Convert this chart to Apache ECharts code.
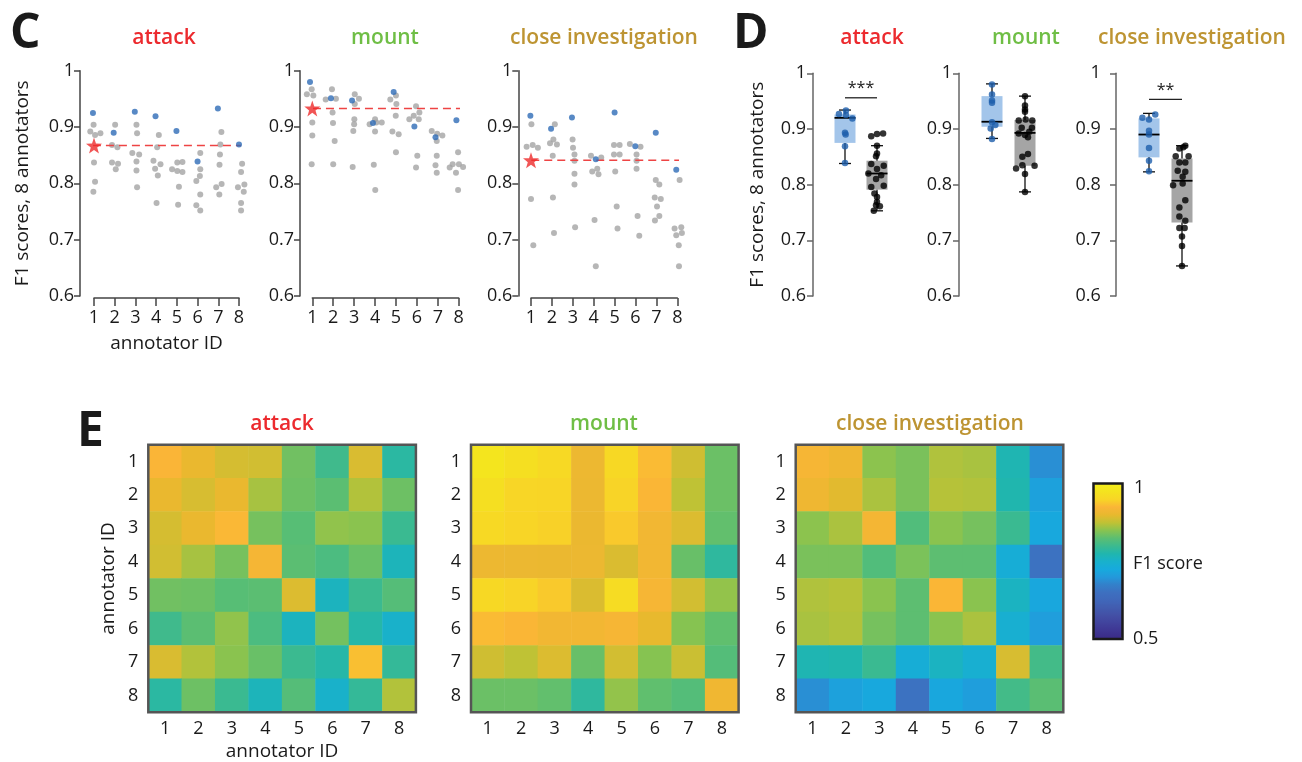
<!DOCTYPE html>
<html><head><meta charset="utf-8">
<script src="https://cdn.jsdelivr.net/npm/echarts@6/dist/echarts.min.js"></script>
<style>html,body{margin:0;padding:0;background:#fff}#c{width:1302px;height:762px}</style>
</head><body><div id="c"></div>
<script>
// ---------------- DATA ----------------
const ids = ['1','2','3','4','5','6','7','8'];
const behaviors = ['attack', 'mount', 'close investigation'];
const behaviorColors = ['#ec2a2e', '#6fbe45', '#bd9432'];

// Panel C: [annotator position (with jitter), F1]
const attackVsOthers = [
 [0.82,0.892],[0.98,0.904],[1.05,0.886],[1.31,0.889],[1.0,0.837],[1.05,0.803],[0.97,0.785],
 [2.02,0.904],[1.87,0.868],[2.13,0.864],[1.87,0.837],[2.16,0.835],[2.05,0.825],
 [3.05,0.904],[3.08,0.889],[2.85,0.854],[3.18,0.851],[3.05,0.839],[3.05,0.823],[3.08,0.793],
 [4.13,0.886],[4.05,0.864],[3.87,0.840],[3.95,0.826],[4.21,0.834],[4.08,0.814],[4.02,0.765],
 [4.77,0.825],[5.02,0.837],[5.02,0.822],[5.27,0.838],[5.27,0.820],[5.1,0.794],[5.06,0.762],
 [6.13,0.854],[6.13,0.825],[6.11,0.813],[5.94,0.804],[6.13,0.780],[5.94,0.761],[6.13,0.752],
 [7.15,0.891],[7.1,0.869],[7.08,0.851],[7.06,0.833],[7.16,0.799],[6.9,0.793],[7.05,0.780],
 [8.15,0.835],[8.1,0.820],[8.26,0.798],[7.95,0.793],[8.23,0.785],[8.1,0.765],[8.1,0.752]];
const attackVsConsensus = [[0.95,0.925],[1.95,0.890],[2.97,0.927],[3.97,0.919],[4.98,0.893],[6.0,0.839],[6.98,0.933],[8.0,0.869]];

const mountVsOthers = [
 [0.74,0.958],[0.97,0.967],[1.05,0.956],[1.0,0.908],[1.0,0.885],[0.97,0.834],
 [1.64,0.949],[1.94,0.967],[2.13,0.950],[1.97,0.926],[1.99,0.907],[2.07,0.875],[2.0,0.834],
 [3.03,0.958],[3.03,0.941],[3.23,0.950],[3.01,0.914],[3.0,0.905],[2.96,0.893],[2.93,0.829],
 [3.74,0.905],[4.0,0.914],[4.06,0.908],[4.32,0.908],[4.0,0.892],[3.94,0.833],[4.01,0.788],
 [4.73,0.949],[5.0,0.956],[5.02,0.941],[4.99,0.920],[4.83,0.892],[5.13,0.887],[5.0,0.855],
 [5.96,0.937],[5.85,0.920],[6.12,0.926],[5.64,0.914],[6.09,0.914],[6.02,0.849],[5.96,0.828],
 [6.71,0.893],[6.97,0.888],[7.22,0.885],[6.95,0.875],[6.95,0.849],[6.89,0.832],[6.95,0.819],
 [7.97,0.855],[7.57,0.828],[7.71,0.834],[8.01,0.834],[8.21,0.829],[7.87,0.819],[7.97,0.788]];
const mountVsConsensus = [[0.89,0.980],[1.89,0.951],[2.9,0.947],[3.9,0.907],[4.89,0.962],[5.88,0.901],[6.89,0.882],[7.89,0.912]];

const closeInvVsOthers = [
 [0.79,0.865],[1.02,0.905],[1.08,0.868],[1.33,0.863],[1.0,0.772],[1.11,0.690],
 [2.14,0.905],[2.07,0.878],[1.91,0.871],[2.24,0.869],[2.04,0.849],[2.05,0.775],[2.1,0.712],
 [2.99,0.878],[3.01,0.863],[3.08,0.851],[3.08,0.840],[3.08,0.817],[3.08,0.798],[3.11,0.722],
 [3.87,0.849],[4.36,0.846],[3.93,0.821],[4.17,0.826],[4.23,0.816],[4.04,0.735],[4.1,0.653],
 [4.97,0.868],[5.24,0.868],[4.97,0.851],[5.24,0.851],[5.03,0.821],[5.1,0.759],[5.14,0.720],
 [5.73,0.870],[6.24,0.865],[6.05,0.851],[6.05,0.840],[6.05,0.826],[6.1,0.742],[6.18,0.707],
 [6.97,0.806],[7.14,0.798],[6.92,0.775],[7.21,0.772],[7.03,0.759],[7.14,0.742],[6.93,0.734],
 [8.11,0.806],[7.87,0.720],[8.19,0.722],[7.95,0.708],[8.22,0.712],[8.07,0.690],[8.08,0.653]];
const closeInvVsConsensus = [[0.97,0.920],[1.96,0.897],[2.96,0.917],[4.1,0.843],[5.0,0.926],[5.99,0.866],[6.97,0.890],[7.95,0.824]];

const meanF1 = [0.867, 0.933, 0.841];

// Panel D: box stats [min, q1, median, q3, max] for [vs consensus, vs others]
const attackBoxes = [[0.838,0.875,0.920,0.926,0.934],[0.753,0.791,0.820,0.843,0.870]];
const mountBoxes = [[0.883,0.904,0.913,0.959,0.981],[0.787,0.834,0.893,0.916,0.959]];
const closeInvBoxes = [[0.823,0.849,0.890,0.919,0.928],[0.654,0.732,0.807,0.847,0.870]];
// Panel D points: [jitter, F1]
const attackExpertPts = [[0.03,0.933],[-0.19,0.927],[0.03,0.925],[0.23,0.919],[0,0.893],[0.02,0.890],[0,0.869],[0,0.839]];
const attackPairPts = [[-0.18,0.887],[0,0.891],[0.19,0.892],[0,0.870],[0,0.856],[-0.03,0.851],[-0.18,0.837],[0.21,0.834],[0,0.828],[-0.27,0.820],[0.13,0.817],[-0.03,0.810],[-0.18,0.796],[0.21,0.798],[-0.08,0.784],[0,0.778],[0,0.769],[-0.03,0.763],[0.09,0.761],[-0.1,0.753]];
const mountExpertPts = [[0,0.980],[0,0.962],[0,0.951],[0,0.947],[0,0.912],[0.1,0.907],[-0.04,0.901],[0,0.882]];
const mountPairPts = [[0,0.959],[0,0.942],[0,0.935],[0,0.931],[-0.19,0.915],[0.02,0.917],[0.22,0.915],[-0.1,0.902],[0.21,0.902],[0.13,0.895],[-0.19,0.892],[0,0.889],[0.09,0.885],[0.09,0.855],[-0.08,0.850],[-0.08,0.835],[0.29,0.834],[-0.27,0.829],[0,0.819],[0,0.787]];
const closeInvExpertPts = [[0.19,0.926],[-0.2,0.920],[0,0.917],[0,0.897],[0,0.890],[0,0.866],[0,0.843],[0,0.824]];
const closeInvPairPts = [[-0.08,0.865],[0.04,0.867],[0.1,0.870],[-0.19,0.851],[0.2,0.851],[-0.08,0.840],[0.1,0.840],[-0.13,0.825],[0.1,0.823],[0.02,0.814],[0.02,0.802],[-0.27,0.799],[0.1,0.772],[-0.08,0.759],[-0.08,0.743],[0.1,0.735],[-0.08,0.722],[0.08,0.722],[0,0.707],[0,0.690],[0,0.654]];
const significance = [[1, 2, 0.956, '***'], null, [1, 2, 0.953, '**']];

// Panel E: pairwise F1 matrices (row = annotator, col = annotator)
const attackMatrix = [
 [0.925,0.904,0.889,0.886,0.837,0.803,0.891,0.785],
 [0.904,0.890,0.904,0.864,0.835,0.825,0.869,0.835],
 [0.889,0.904,0.927,0.840,0.822,0.854,0.851,0.798],
 [0.886,0.864,0.840,0.919,0.825,0.813,0.833,0.765],
 [0.837,0.835,0.822,0.825,0.893,0.762,0.799,0.820],
 [0.803,0.825,0.854,0.813,0.762,0.839,0.780,0.752],
 [0.891,0.869,0.851,0.833,0.799,0.780,0.933,0.793],
 [0.785,0.835,0.798,0.765,0.820,0.752,0.793,0.869]];
const mountMatrix = [
 [0.980,0.967,0.958,0.908,0.956,0.930,0.885,0.834],
 [0.967,0.951,0.950,0.907,0.949,0.926,0.875,0.834],
 [0.958,0.950,0.947,0.905,0.941,0.914,0.893,0.829],
 [0.908,0.907,0.905,0.907,0.892,0.914,0.832,0.788],
 [0.956,0.949,0.941,0.892,0.962,0.920,0.887,0.855],
 [0.930,0.926,0.914,0.914,0.920,0.901,0.849,0.828],
 [0.885,0.875,0.893,0.832,0.887,0.849,0.882,0.819],
 [0.834,0.834,0.829,0.788,0.855,0.828,0.819,0.912]];
const closeInvMatrix = [
 [0.920,0.910,0.852,0.842,0.868,0.865,0.772,0.690],
 [0.910,0.897,0.866,0.842,0.871,0.869,0.775,0.712],
 [0.852,0.866,0.917,0.817,0.851,0.840,0.798,0.722],
 [0.842,0.842,0.817,0.843,0.826,0.826,0.735,0.653],
 [0.868,0.871,0.851,0.826,0.926,0.851,0.759,0.720],
 [0.865,0.869,0.840,0.826,0.851,0.866,0.742,0.707],
 [0.772,0.775,0.798,0.735,0.759,0.742,0.890,0.806],
 [0.690,0.712,0.722,0.653,0.720,0.708,0.806,0.824]];

// ---------------- STYLE / LAYOUT ----------------
const FONT = "'Open Sans', 'DejaVu Sans', sans-serif";
const parula = ['#3a2a85','#3e3592','#41429c','#434fa5','#425caf','#4067ba','#3d70c0','#3380ca','#2399db','#17aadd','#18b1cc','#20b6ae','#3cba8f','#5bbe72','#88c350','#bfc235','#e7b92e','#fab537','#f8d526','#f4e31f','#f4ee1a'];
const cLayout = [
  {left:94, width:145, yOffset:14, line:[0.32,8.53]},
  {left:312.3, width:146.4, yOffset:12.3, line:[0.41,8.4]},
  {left:531, width:146.3, yOffset:12.7, line:[0.39,8.42]}];
const dLayout = [{left:813, width:96, yOffset:1},{left:959, width:99, yOffset:1},{left:1116, width:99, yOffset:9.3}];
const eLayout = [{left:148.3},{left:471},{left:795.7}];
const eTop = 444.7, eSize = 267.6;

const cOthers = [attackVsOthers, mountVsOthers, closeInvVsOthers];
const cCons = [attackVsConsensus, mountVsConsensus, closeInvVsConsensus];
const dBoxes = [attackBoxes, mountBoxes, closeInvBoxes];
const dExpert = [attackExpertPts, mountExpertPts, closeInvExpertPts];
const dPairs = [attackPairPts, mountPairPts, closeInvPairPts];
const eMats = [attackMatrix, mountMatrix, closeInvMatrix];

const grid = [], xAxis = [], yAxis = [], series = [];
const tickFmt = v => (Math.abs(v - 1) < 1e-6 ? '1' : v.toFixed(1));
const axisTxt = {color:'#1a1a1a', fontSize:18, fontFamily:FONT};
const starPath = 'path://M0,-10 L2.35,-3.24 L9.51,-3.09 L3.8,1.24 L5.88,8.09 L0,4 L-5.88,8.09 L-3.8,1.24 L-9.51,-3.09 L-2.35,-3.24 Z';

// Panel C
for (let i = 0; i < 3; i++) {
  const L = cLayout[i], gi = grid.length;
  grid.push({left:L.left, top:70.7, width:L.width, height:225.3, containLabel:false, outerBoundsMode:'none'});
  xAxis.push({gridIndex:gi, type:'value', min:1, max:8, interval:1, offset:2,
    axisLine:{show:true, lineStyle:{color:'#444', width:1.5}},
    axisTick:{show:true, length:8, lineStyle:{color:'#444', width:1.5}},
    splitLine:{show:false}, axisLabel:Object.assign({margin:11}, axisTxt),
    name: i === 0 ? 'annotator ID' : '', nameLocation:'middle', nameGap:36,
    nameTextStyle:{fontSize:19, color:'#1a1a1a', fontFamily:FONT}});
  yAxis.push({gridIndex:gi, type:'value', min:0.6, max:1, interval:0.1, offset:L.yOffset,
    axisLine:{show:true, lineStyle:{color:'#444', width:1.5}},
    axisTick:{show:true, length:6, lineStyle:{color:'#444', width:1.5}},
    splitLine:{show:false}, axisLabel:Object.assign({margin:6, formatter:tickFmt}, axisTxt),
    name: i === 0 ? 'F1 scores, 8 annotators' : '', nameLocation:'middle', nameGap:48,
    nameTextStyle:{fontSize:19, color:'#1a1a1a', fontFamily:FONT}});
  series.push({type:'line', xAxisIndex:gi, yAxisIndex:gi, clip:false, silent:true, symbol:'none', z:3,
    data:[[L.line[0], meanF1[i]], [L.line[1], meanF1[i]]],
    lineStyle:{color:'#ee4444', width:1.5, type:[8,5]}});
  series.push({type:'scatter', xAxisIndex:gi, yAxisIndex:gi, clip:false, silent:true, symbolSize:6,
    data:cOthers[i], itemStyle:{color:'#a4a4a4'}, z:2});
  series.push({type:'scatter', xAxisIndex:gi, yAxisIndex:gi, clip:false, silent:true, symbolSize:6,
    data:cCons[i], itemStyle:{color:'#2e6bb7'}, z:4});
  series.push({type:'scatter', xAxisIndex:gi, yAxisIndex:gi, clip:false, silent:true, symbol:starPath, symbolSize:16,
    data:[[1, meanF1[i]]], itemStyle:{color:'#ee2a2a'}, z:5});
}

// Panel D
function renderBox(params, api) {
  const x = api.value(0);
  const c = v => api.coord([x, v]);
  const [cx, yMin] = c(api.value(1));
  const yQ1 = c(api.value(2))[1], yMed = c(api.value(3))[1], yQ3 = c(api.value(4))[1], yMax = c(api.value(5))[1];
  const hw = 10.5, cap = 6;
  const fill = params.dataIndex === 0 ? '#a3c5ea' : '#a5a5a5';
  const ls = {stroke:'#111', lineWidth:1.3};
  return {type:'group', children:[
    {type:'rect', shape:{x:cx-hw, y:yQ3, width:2*hw, height:yQ1-yQ3}, style:{fill:fill}},
    {type:'line', shape:{x1:cx, y1:yQ3, x2:cx, y2:yMax}, style:ls},
    {type:'line', shape:{x1:cx, y1:yQ1, x2:cx, y2:yMin}, style:ls},
    {type:'line', shape:{x1:cx-cap, y1:yMax, x2:cx+cap, y2:yMax}, style:ls},
    {type:'line', shape:{x1:cx-cap, y1:yMin, x2:cx+cap, y2:yMin}, style:ls},
    {type:'line', shape:{x1:cx-hw, y1:yMed, x2:cx+hw, y2:yMed}, style:{stroke:'#000', lineWidth:1.8}}]};
}
for (let i = 0; i < 3; i++) {
  const L = dLayout[i], gi = grid.length;
  grid.push({left:L.left, top:73.3, width:L.width, height:222.7, containLabel:false, outerBoundsMode:'none'});
  xAxis.push({gridIndex:gi, type:'value', min:0, max:3, show:false});
  yAxis.push({gridIndex:gi, type:'value', min:0.6, max:1, interval:0.1, offset:L.yOffset,
    axisLine:{show:true, lineStyle:{color:'#666', width:1.5}},
    axisTick:{show:true, length:6, lineStyle:{color:'#666', width:1.5}},
    splitLine:{show:false}, axisLabel:Object.assign({margin:6, formatter:tickFmt}, axisTxt),
    name: i === 0 ? 'F1 scores, 8 annotators' : '', nameLocation:'middle', nameGap:45,
    nameTextStyle:{fontSize:19, color:'#1a1a1a', fontFamily:FONT}});
  series.push({type:'custom', xAxisIndex:gi, yAxisIndex:gi, silent:true, z:2,
    data:dBoxes[i].map((b, k) => [k + 1].concat(b)), renderItem:renderBox, clip:false});
  series.push({type:'scatter', xAxisIndex:gi, yAxisIndex:gi, silent:true, clip:false, symbolSize:6.5, z:4,
    data:dExpert[i].map(p => [1 + p[0], p[1]]), itemStyle:{color:'#1d5eab'}});
  series.push({type:'scatter', xAxisIndex:gi, yAxisIndex:gi, silent:true, clip:false, symbolSize:6.5, z:4,
    data:dPairs[i].map(p => [2 + p[0], p[1]]), itemStyle:{color:'#000'}});
  if (significance[i]) {
    const s = significance[i];
    series.push({type:'custom', xAxisIndex:gi, yAxisIndex:gi, silent:true, clip:false, z:4,
      data:[[s[0], s[1], s[2]]],
      renderItem:(params, api) => {
        const p1 = api.coord([api.value(0), api.value(2)]);
        const p2 = api.coord([api.value(1), api.value(2)]);
        return {type:'group', children:[
          {type:'line', shape:{x1:p1[0], y1:p1[1], x2:p2[0], y2:p2[1]}, style:{stroke:'#222', lineWidth:1.3}},
          {type:'text', x:(p1[0]+p2[0])/2, y:p1[1]-1, style:{text:s[3], fill:'#222', font:'16px ' + FONT, textAlign:'center', textVerticalAlign:'bottom'}}]};
      }});
  }
}

// Panel E
const heatIdx = [];
for (let i = 0; i < 3; i++) {
  const gi = grid.length;
  grid.push({left:eLayout[i].left, top:eTop, width:eSize, height:eSize, containLabel:false, outerBoundsMode:'none'});
  xAxis.push({gridIndex:gi, type:'category', data:ids, position:'bottom',
    axisLine:{show:false}, axisTick:{show:false}, splitLine:{show:false},
    axisLabel:Object.assign({margin:8}, axisTxt),
    name: i === 0 ? 'annotator ID' : '', nameLocation:'middle', nameGap:30,
    nameTextStyle:{fontSize:19, color:'#1a1a1a', fontFamily:FONT}});
  yAxis.push({gridIndex:gi, type:'category', data:ids, inverse:true,
    axisLine:{show:false}, axisTick:{show:false}, splitLine:{show:false},
    axisLabel:Object.assign({margin:10}, axisTxt),
    name: i === 0 ? 'annotator ID' : '', nameLocation:'middle', nameGap:30,
    nameTextStyle:{fontSize:19, color:'#1a1a1a', fontFamily:FONT}});
  const data = [];
  eMats[i].forEach((row, r) => row.forEach((v, c) => data.push([c, r, v])));
  heatIdx.push(series.length);
  series.push({type:'heatmap', xAxisIndex:gi, yAxisIndex:gi, data:data, silent:true,
    itemStyle:{borderWidth:0}, emphasis:{disabled:true}, progressive:0});
}

// ---------------- GRAPHIC (titles, letters, frames) ----------------
const graphic = [];
const txt = (x, y, text, font, fill, align) => graphic.push({type:'text', x:x, y:y, z:100,
  style:{text:text, font:font, fill:fill, textAlign:align || 'center', textVerticalAlign:'middle'}});
txt(10, 34, 'C', 'bold 48px ' + FONT, '#1a1a1a', 'left');
txt(733, 34, 'D', 'bold 48px ' + FONT, '#1a1a1a', 'left');
txt(77, 432, 'E', 'bold 48px ' + FONT, '#1a1a1a', 'left');
const cTitleX = [164, 385, 604], dTitleX = [872, 1026, 1192], eTitleX = [282, 604, 930];
for (let i = 0; i < 3; i++) {
  txt(cTitleX[i], 38, behaviors[i], '600 21px ' + FONT, behaviorColors[i]);
  txt(dTitleX[i], 38, behaviors[i], '600 21px ' + FONT, behaviorColors[i]);
  txt(eTitleX[i], 424, behaviors[i], '600 21px ' + FONT, behaviorColors[i]);
  graphic.push({type:'rect', z:100, shape:{x:eLayout[i].left, y:eTop, width:eSize, height:eSize},
    style:{fill:null, stroke:'#555', lineWidth:2.5}});
}
graphic.push({type:'rect', z:100, shape:{x:1093.5, y:483.5, width:29, height:155.5}, style:{fill:null, stroke:'#1a1a1a', lineWidth:2.5}});
txt(1134, 488, '1', '18px ' + FONT, '#1a1a1a', 'left');
txt(1133, 564, 'F1 score', '18px ' + FONT, '#1a1a1a', 'left');
txt(1133, 639, '0.5', '18px ' + FONT, '#1a1a1a', 'left');

const chart = echarts.init(document.getElementById('c'), null, {renderer:'canvas'});
chart.setOption({
  animation:false,
  backgroundColor:'#fff',
  textStyle:{fontFamily:FONT},
  grid:grid, xAxis:xAxis, yAxis:yAxis, series:series, graphic:graphic,
  visualMap:{type:'continuous', min:0.5, max:1, seriesIndex:heatIdx, calculable:false, orient:'vertical',
    left:1094, top:484, itemWidth:28, itemHeight:155, padding:0, inRange:{color:parula}, hoverLink:false}
});
</script></body></html>
